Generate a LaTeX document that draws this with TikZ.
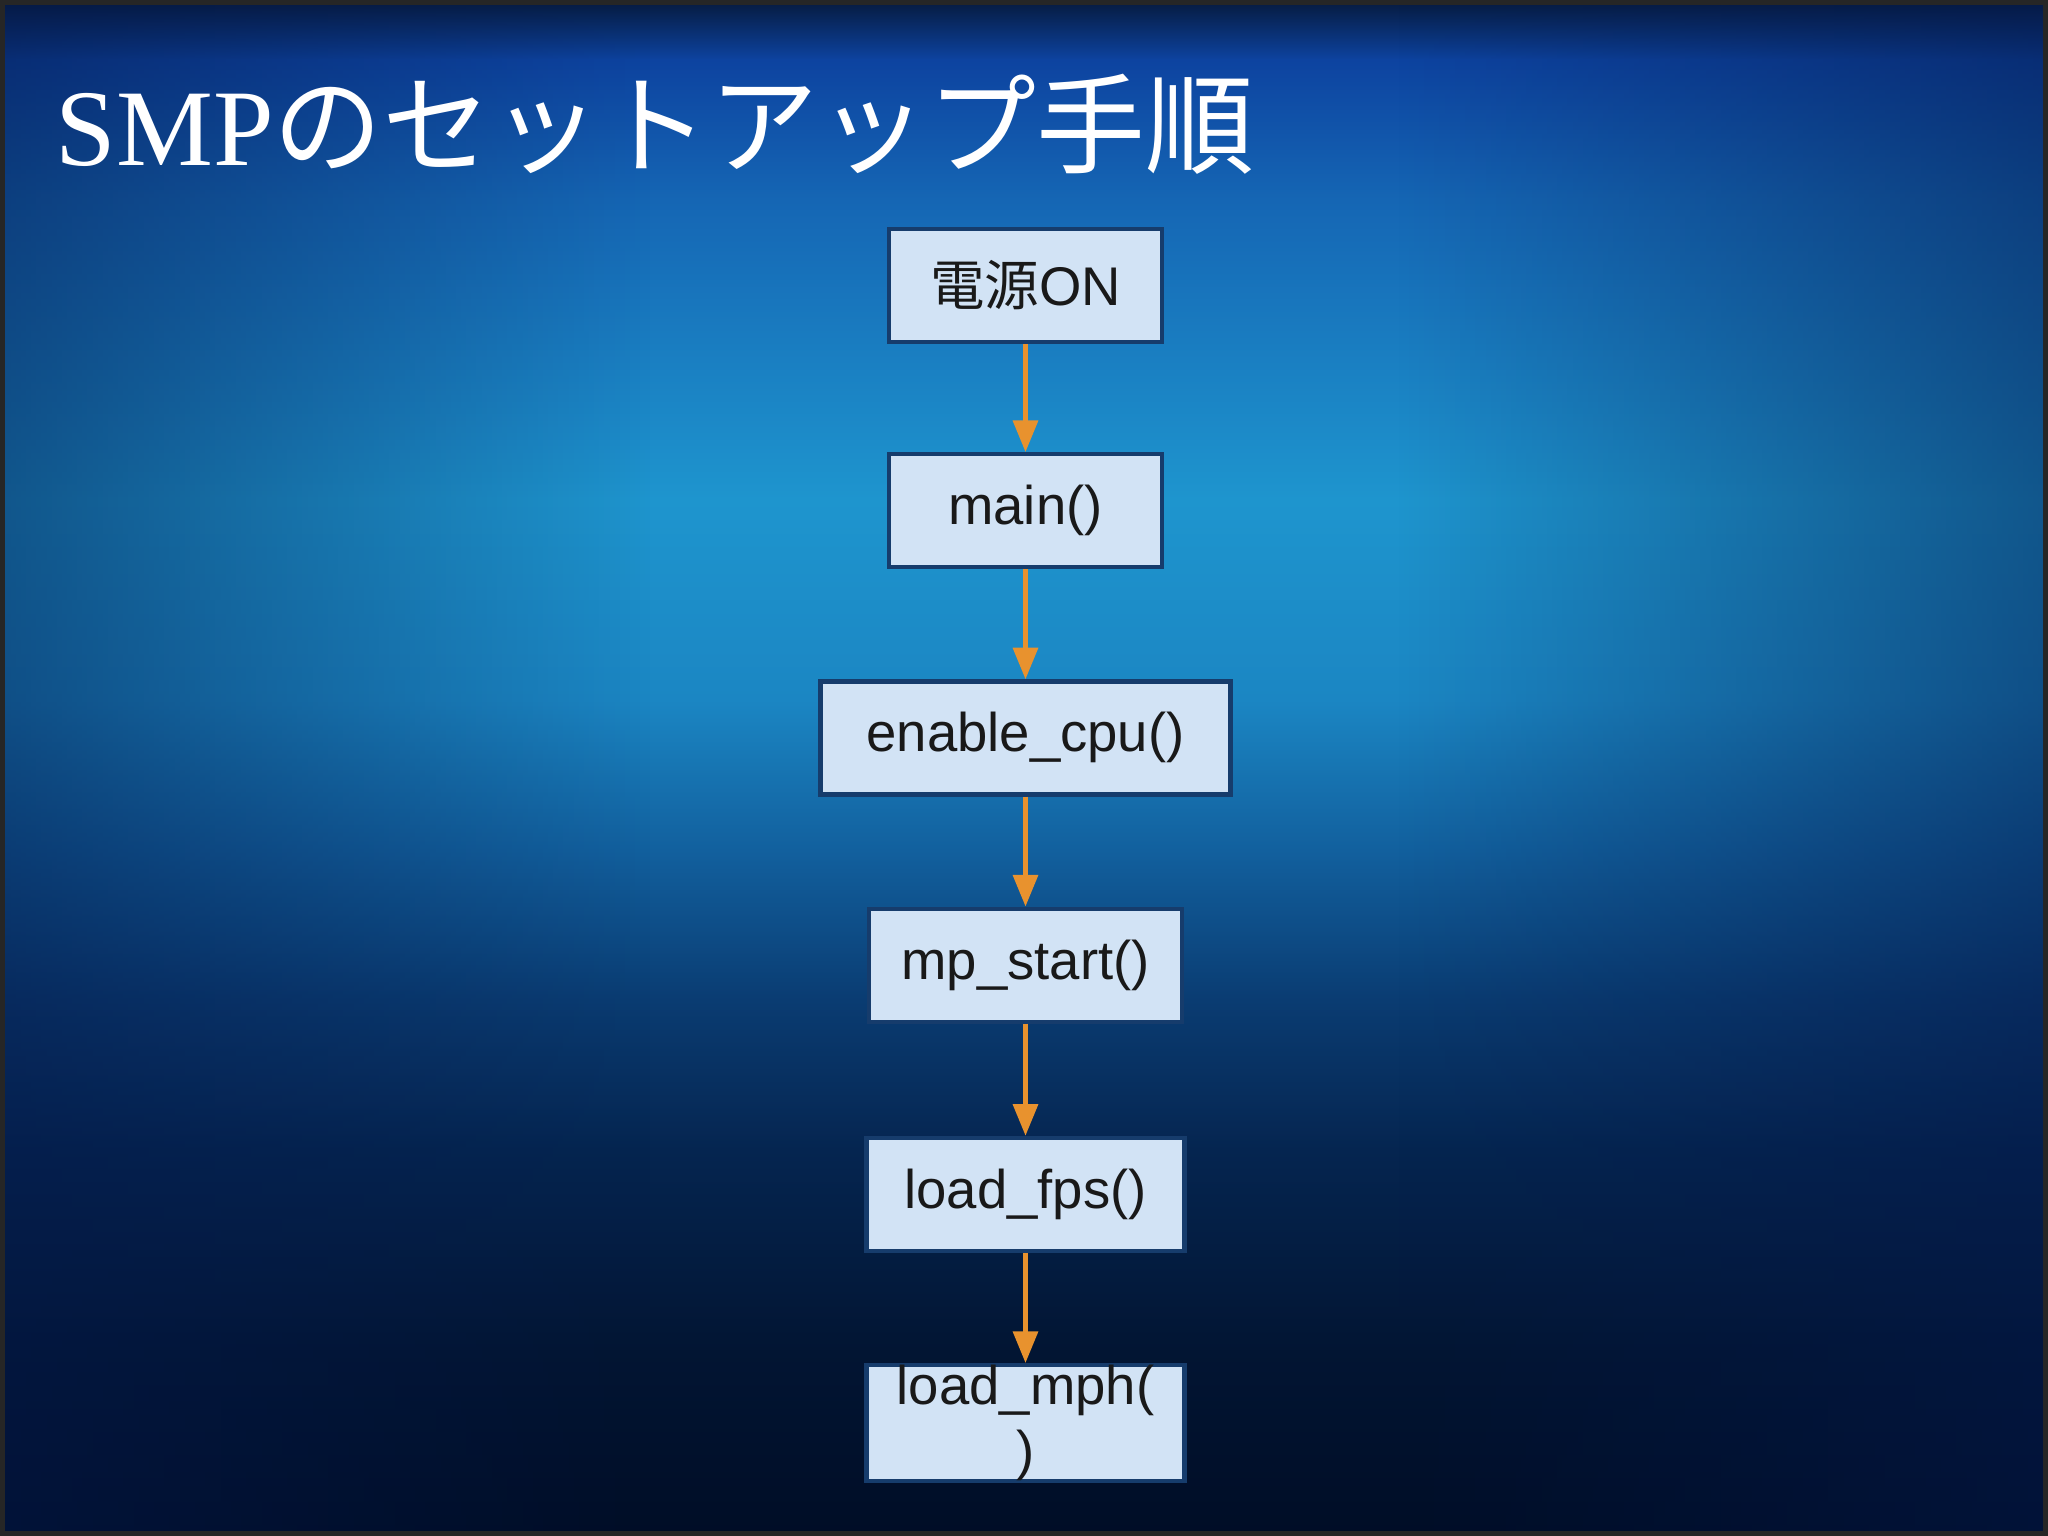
\documentclass[tikz,border=0pt]{standalone}
\usepackage{fontspec}
\setmainfont{Liberation Serif}
\setsansfont{Liberation Sans}
\newfontfamily\jpfont{Noto Sans CJK JP}
\usetikzlibrary{positioning,arrows.meta,fadings}

\definecolor{boxfill}{HTML}{D2E3F5}
\definecolor{boxline}{HTML}{163C6C}
\definecolor{flowcol}{HTML}{E8922E}
\definecolor{bgA}{HTML}{061A3E}
\definecolor{bgB}{HTML}{0D43A0}
\definecolor{bgC}{HTML}{1566B4}
\definecolor{bgD}{HTML}{1E95CE}
\definecolor{bgE}{HTML}{1B86C3}
\definecolor{bgF}{HTML}{12609E}
\definecolor{bgG}{HTML}{0A3C72}
\definecolor{bgH}{HTML}{052550}
\definecolor{bgI}{HTML}{021533}
\definecolor{bgJ}{HTML}{000D26}
\definecolor{edgecol}{HTML}{04184A}

\tikzset{
  stepbox/.style={draw=boxline, line width=1.2pt, fill=boxfill, minimum height=1.13cm,
    inner ysep=0pt, font=\sffamily\fontsize{15.5}{18.5}\selectfont, text=black!90},
  flow/.style={draw=flowcol, line width=1.3pt, -{Triangle[width=7pt,length=9pt]}}
}

\begin{document}
\begin{tikzpicture}
\useasboundingbox (0,0) rectangle (20.48,15.36);

% background
\shade[top color=bgA, bottom color=bgB] (0,15.36) rectangle (20.48,14.76);
\shade[top color=bgB, bottom color=bgC] (0,14.76) rectangle (20.48,13.36);
\shade[top color=bgC, bottom color=bgD] (0,13.36) rectangle (20.48,10.36);
\shade[top color=bgD, bottom color=bgE] (0,10.36) rectangle (20.48,8.36);
\shade[top color=bgE, bottom color=bgF] (0,8.36) rectangle (20.48,6.86);
\shade[top color=bgF, bottom color=bgG] (0,6.86) rectangle (20.48,5.36);
\shade[top color=bgG, bottom color=bgH] (0,5.36) rectangle (20.48,3.86);
\shade[top color=bgH, bottom color=bgI] (0,3.86) rectangle (20.48,1.86);
\shade[top color=bgI, bottom color=bgJ] (0,1.86) rectangle (20.48,0);
\fill[edgecol, opacity=0.5, path fading=east] (0,0) rectangle (6.5,15.36);
\fill[edgecol, opacity=0.5, path fading=west] (13.98,0) rectangle (20.48,15.36);
\draw[black!85, line width=3pt] (0,0) rectangle (20.48,15.36);

% title
\node[anchor=base west, text=white, font=\fontsize{31}{36}\selectfont, inner sep=0pt] (title)
  at (0.55,13.70) {SMP{\jpfont のセットアップ手順}};

% steps
\node[stepbox, minimum width=2.73cm] (pwr) at (10.255,12.505) {{\jpfont 電源}ON};
\node[stepbox, minimum width=2.73cm, below=1.08cm of pwr] (main) {main()};
\node[stepbox, minimum width=4.10cm, below=1.10cm of main] (cpu) {enable\_cpu()};
\node[stepbox, minimum width=3.13cm, below=1.10cm of cpu] (mpstart) {mp\_start()};
\node[stepbox, minimum width=3.18cm, below=1.12cm of mpstart] (fps) {load\_fps()};
\node[stepbox, minimum width=3.18cm, align=center, below=1.10cm of fps] (mph) {load\_mph(\\)};

\path[flow] (pwr) -- (main);
\path[flow] (main) -- (cpu);
\path[flow] (cpu) -- (mpstart);
\path[flow] (mpstart) -- (fps);
\path[flow] (fps) -- (mph);
\end{tikzpicture}
\end{document}
